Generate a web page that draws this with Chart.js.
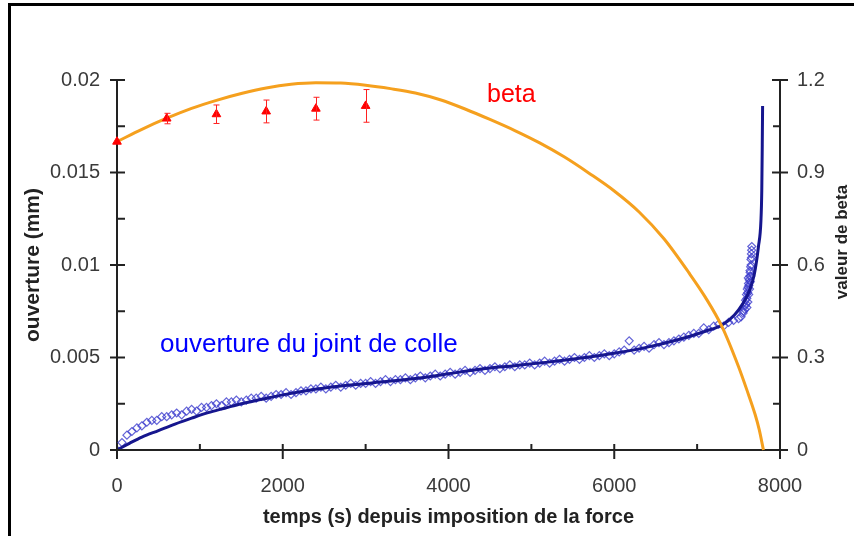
<!DOCTYPE html>
<html>
<head>
<meta charset="utf-8">
<script src="https://cdn.jsdelivr.net/npm/chart.js@4.4.1/dist/chart.umd.min.js"></script>
<style>
  html, body { margin: 0; padding: 0; background: #fff; overflow: hidden; }
  #wrap { position: relative; width: 854px; height: 536px; }
  #frame { position: absolute; left: 8px; top: 3px; width: 900px; height: 600px;
           border-left: 3px solid #000; border-top: 3px solid #000; pointer-events: none; }
  canvas { display: block; }
</style>
</head>
<body>
<div id="wrap">
  <canvas id="c" width="854" height="536"></canvas>
  <div id="frame"></div>
</div>
<script>
// Tick values for the three axes
const timeTicks = [0, 2000, 4000, 6000, 8000];
const timeMinor = [1000, 3000, 5000, 7000];
const openTicks = [0, 0.005, 0.01, 0.015, 0.02];
const openMinor = [0.0025, 0.0075, 0.0125, 0.0175];
const betaTicks = [0, 0.3, 0.6, 0.9, 1.2];
const betaMinor = [0.15, 0.45, 0.75, 1.05];

// Measured joint opening (mm) versus time (s)
const openT = [0, 60, 120, 180, 240, 300, 360, 420, 480, 540, 600, 660, 720, 780, 840, 900, 960, 1020, 1080, 1140,
  1200, 1260, 1320, 1380, 1440, 1500, 1560, 1620, 1680, 1740, 1800, 1860, 1920, 1980, 2040, 2100, 2160, 2220, 2280, 2340,
  2400, 2460, 2520, 2580, 2640, 2700, 2760, 2820, 2880, 2940, 3000, 3060, 3120, 3180, 3240, 3300, 3360, 3420, 3480, 3540,
  3600, 3660, 3720, 3780, 3840, 3900, 3960, 4020, 4080, 4140, 4200, 4260, 4320, 4380, 4440, 4500, 4560, 4620, 4680, 4740,
  4800, 4860, 4920, 4980, 5040, 5100, 5160, 5220, 5280, 5340, 5400, 5460, 5520, 5580, 5640, 5700, 5760, 5820, 5880, 5940,
  6000, 6060, 6120, 6180, 6240, 6300, 6360, 6420, 6480, 6540, 6600, 6660, 6720, 6780, 6840, 6900, 6960, 7020, 7080, 7140,
  7200, 7260, 7320, 7380, 7440, 7500, 7530, 7555, 7575, 7590, 7600, 7610, 7615, 7620, 7628, 7635, 7640, 7645, 7650, 7655, 7660,
  7560, 7580, 7585, 7595, 7600, 7605, 7612, 7618, 7622, 7625, 7632, 7638, 7642, 7648, 7652, 7656, 7658];
const openV = [0.0000, 0.0004, 0.0008, 0.0010, 0.0012, 0.0013, 0.0015, 0.0016, 0.0016, 0.0018, 0.0018, 0.0019, 0.0020, 0.0019, 0.0021, 0.0022, 0.0021, 0.0023, 0.0023, 0.0024,
  0.0025, 0.0024, 0.0026, 0.0026, 0.0027, 0.0026, 0.0027, 0.0028, 0.0028, 0.0029, 0.0028, 0.0029, 0.0030, 0.0030, 0.0031, 0.0030, 0.0031, 0.0032, 0.0032, 0.0033,
  0.0033, 0.0034, 0.0033, 0.0034, 0.0035, 0.0034, 0.0035, 0.0036, 0.0035, 0.0036, 0.0036, 0.0037, 0.0036, 0.0037, 0.0038, 0.0037, 0.0038, 0.0038, 0.0039, 0.0038,
  0.0039, 0.0040, 0.0039, 0.0040, 0.0041, 0.0040, 0.0041, 0.0042, 0.0041, 0.0042, 0.0043, 0.0042, 0.0043, 0.0044, 0.0043, 0.0044, 0.0045, 0.0044, 0.0045, 0.0046,
  0.0045, 0.0046, 0.0046, 0.0047, 0.0046, 0.0047, 0.0048, 0.0047, 0.0048, 0.0049, 0.0048, 0.0049, 0.0050, 0.0049, 0.0050, 0.0051, 0.0050, 0.0051, 0.0052, 0.0051,
  0.0052, 0.0053, 0.0054, 0.0059, 0.0054, 0.0055, 0.0056, 0.0055, 0.0057, 0.0058, 0.0057, 0.0058, 0.0059, 0.0060, 0.0061, 0.0062, 0.0063, 0.0063, 0.0066, 0.0065,
  0.0067, 0.0068, 0.0067, 0.0069, 0.0070, 0.0071, 0.0072, 0.0074, 0.0076, 0.0079, 0.0082, 0.0085, 0.0088, 0.0090, 0.0092, 0.0094, 0.0096, 0.0099, 0.0103, 0.0106, 0.0110,
  0.0075, 0.0078, 0.0081, 0.0084, 0.0077, 0.0087, 0.0080, 0.0093, 0.0084, 0.0089, 0.0087, 0.0097, 0.0091, 0.0094, 0.0100, 0.0104, 0.0108];

// Fitted opening curve
const fitT = [0, 150, 300, 500, 700, 900, 1100, 1300, 1500, 1750, 2000, 2300, 2700, 3100, 3600, 4000, 4400, 4800, 5200, 5600,
  6000, 6400, 6800, 7100, 7300, 7450, 7550, 7630, 7690, 7740, 7770, 7780, 7786, 7790];
const fitV = [0, 0.00036, 0.00070, 0.00105, 0.00140, 0.00172, 0.00202, 0.00226, 0.00250, 0.00274, 0.00298, 0.00322, 0.00346, 0.00364, 0.00386, 0.00412, 0.00438, 0.00456, 0.00475, 0.00497,
  0.00523, 0.00556, 0.00600, 0.00642, 0.00676, 0.00730, 0.00790, 0.00860, 0.00950, 0.01100, 0.01240, 0.01400, 0.01650, 0.01860];

// Beta curve
const betaT = [0, 300, 600, 900, 1200, 1500, 1800, 2100, 2400, 2700, 3000, 3300, 3600, 3900, 4200, 4500, 4800, 5100, 5400, 5700,
  6000, 6300, 6600, 6900, 7100, 7300, 7500, 7600, 7700, 7750, 7800];
const betaV = [1.000, 1.040, 1.076, 1.108, 1.134, 1.156, 1.174, 1.186, 1.191, 1.190, 1.183, 1.172, 1.158, 1.136, 1.106, 1.072, 1.036, 0.996, 0.950, 0.897,
  0.840, 0.772, 0.685, 0.575, 0.495, 0.400, 0.270, 0.195, 0.115, 0.065, 0.000];

// Beta measurements with error bars
const betaPtT = [0, 600, 1200, 1800, 2400, 3000];
const betaPtV = [1.000, 1.075, 1.089, 1.098, 1.107, 1.116];
const betaPtErr = [0, 0.017, 0.030, 0.037, 0.037, 0.053];

const zip = (xs, ys) => xs.map((x, i) => ({ x: x, y: ys[i] }));
const FONT = "'Liberation Sans', Arial, Helvetica, sans-serif";

const decorations = {
  id: 'decorations',
  afterDatasetsDraw(chart) {
    const { ctx, scales: { x, y2 } } = chart;
    ctx.save();
    // error bars on beta measurements
    ctx.strokeStyle = '#ff2020';
    ctx.lineWidth = 1;
    betaPtT.forEach((t, i) => {
      if (!betaPtErr[i]) return;
      const px = Math.round(x.getPixelForValue(t)) + 0.5;
      const top = y2.getPixelForValue(betaPtV[i] + betaPtErr[i]);
      const bot = y2.getPixelForValue(betaPtV[i] - betaPtErr[i]);
      ctx.beginPath();
      ctx.moveTo(px, top); ctx.lineTo(px, bot);
      ctx.moveTo(px - 3, top); ctx.lineTo(px + 3, top);
      ctx.moveTo(px - 3, bot); ctx.lineTo(px + 3, bot);
      ctx.stroke();
    });
    ctx.restore();
  },
  afterDraw(chart) {
    const { ctx, scales: { x, y, y2 } } = chart;
    ctx.save();
    ctx.strokeStyle = '#222';
    ctx.lineWidth = 2;
    const seg = (a, b, c, d) => { ctx.beginPath(); ctx.moveTo(a, b); ctx.lineTo(c, d); ctx.stroke(); };
    const xb = x.top;
    timeTicks.forEach(v => { const p = x.getPixelForValue(v); seg(p, xb - 6, p, xb + 9); });
    timeMinor.forEach(v => { const p = x.getPixelForValue(v); seg(p, xb - 6, p, xb); });
    const yl = y.right;
    openTicks.forEach(v => { const p = y.getPixelForValue(v); seg(yl - 7, p, yl + 8, p); });
    openMinor.forEach(v => { const p = y.getPixelForValue(v); seg(yl, p, yl + 8, p); });
    const yr = y2.left;
    betaTicks.forEach(v => { const p = y2.getPixelForValue(v); seg(yr - 8, p, yr + 8, p); });
    betaMinor.forEach(v => { const p = y2.getPixelForValue(v); seg(yr - 7, p, yr, p); });

    // series labels
    ctx.textBaseline = 'alphabetic';
    ctx.textAlign = 'left';
    ctx.font = '25px ' + FONT;
    ctx.fillStyle = '#ff0000';
    ctx.fillText('beta', 487, 102);
    ctx.font = '26px ' + FONT;
    ctx.fillStyle = '#0000ff';
    ctx.fillText('ouverture du joint de colle', 160, 352);

    // right axis title
    ctx.translate(842, 242);
    ctx.rotate(-Math.PI / 2);
    ctx.textAlign = 'center';
    ctx.textBaseline = 'middle';
    ctx.font = 'bold 17px ' + FONT;
    ctx.fillStyle = '#222';
    ctx.fillText('valeur de beta', 0, 0);
    ctx.restore();
  }
};

const axisBorder = { display: true, color: '#222', width: 2 };
const axisGrid = { display: true, drawOnChartArea: false, drawTicks: false };
const tickFont = { family: FONT, size: 20 };

new Chart(document.getElementById('c'), {
  type: 'scatter',
  data: {
    datasets: [
      {
        label: 'beta mesuré',
        data: zip(betaPtT, betaPtV),
        yAxisID: 'y2',
        pointStyle: 'triangle',
        pointRadius: 5,
        backgroundColor: '#ff0000',
        borderColor: '#ff0000',
        borderWidth: 1,
        clip: false
      },
      {
        label: 'beta',
        data: zip(betaT, betaV),
        yAxisID: 'y2',
        showLine: true,
        pointRadius: 0,
        borderColor: '#f5a01e',
        borderWidth: 3,
        cubicInterpolationMode: 'monotone',
        clip: false
      },
      {
        label: 'ouverture calculée',
        data: zip(fitT, fitV),
        yAxisID: 'y',
        showLine: true,
        pointRadius: 0,
        borderColor: '#16168e',
        borderWidth: 3,
        cubicInterpolationMode: 'monotone'
      },
      {
        label: 'ouverture mesurée',
        data: zip(openT, openV),
        yAxisID: 'y',
        pointStyle: 'rectRot',
        pointRadius: 4,
        backgroundColor: 'rgba(255,255,255,0)',
        borderColor: 'rgba(60,60,205,0.8)',
        borderWidth: 1.2
      }
    ]
  },
  options: {
    responsive: false,
    animation: false,
    layout: { padding: { top: 80, left: 0, right: 0, bottom: 0 } },
    plugins: { legend: { display: false }, tooltip: { enabled: false } },
    scales: {
      x: {
        type: 'linear', min: 0, max: 8000,
        border: axisBorder, grid: axisGrid,
        ticks: { stepSize: 2000, color: '#3a3a3a', font: tickFont, padding: 24,
                 callback: v => String(Math.round(v)) },
        title: { display: true, text: 'temps (s) depuis imposition de la force',
                 color: '#222', font: { family: FONT, size: 20, weight: 'bold' },
                 padding: { top: 0, bottom: 7 } },
        afterFit: s => { s.height = 86; }
      },
      y: {
        type: 'linear', position: 'left', min: 0, max: 0.02,
        border: axisBorder, grid: axisGrid,
        ticks: { stepSize: 0.005, color: '#3a3a3a', font: tickFont, padding: 17,
                 callback: v => String(+v.toFixed(4)) },
        title: { display: true, text: 'ouverture (mm)',
                 color: '#222', font: { family: FONT, size: 21, weight: 'bold' },
                 padding: { top: 21, bottom: 0 } },
        afterFit: s => { s.width = 117; }
      },
      y2: {
        type: 'linear', position: 'right', min: 0, max: 1.2,
        border: axisBorder, grid: axisGrid,
        ticks: { stepSize: 0.3, color: '#3a3a3a', font: tickFont, padding: 17,
                 callback: v => String(+v.toFixed(2)) },
        afterFit: s => { s.width = 74; }
      }
    }
  },
  plugins: [decorations]
});
</script>
</body>
</html>
